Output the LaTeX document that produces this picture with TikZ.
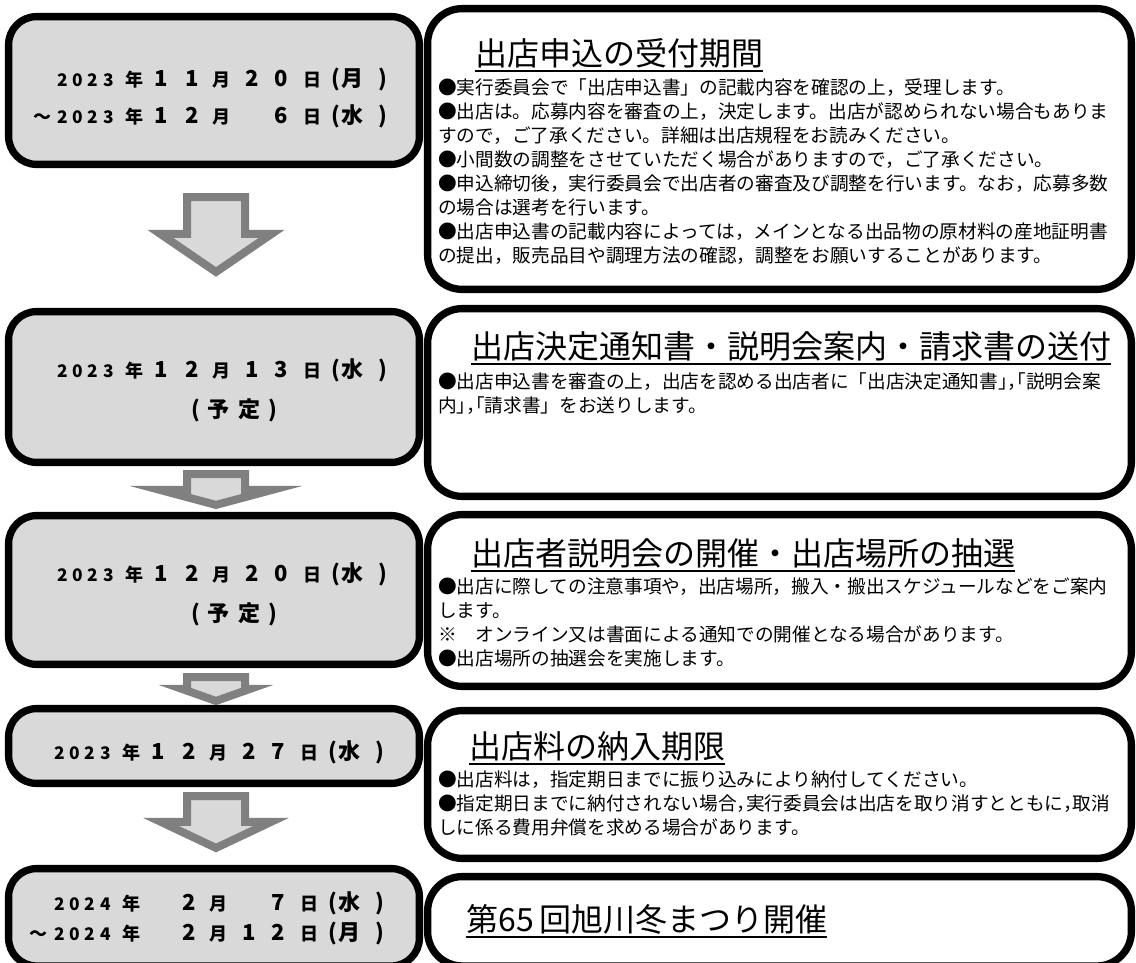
\documentclass[tikz,border=0pt]{standalone}
\usepackage{fontspec}
\setmainfont{Noto Sans CJK JP}
\usetikzlibrary{calc,fit}
\definecolor{boxgray}{HTML}{D9D9D9}
\definecolor{arrowgray}{HTML}{808080}

\newcommand{\at}[2]{\rlap{\hspace*{#1pt}\makebox[0pt]{#2}}}
\newcommand{\yr}[4]{\makebox[42.75pt][s]{\fontsize{13pt}{13pt}\selectfont#1\hfil#2\hfil#3\hfil#4}}
\newcommand{\kj}[1]{{\fontsize{13.5pt}{13.5pt}\selectfont#1}}
\newcommand{\dg}[1]{{\fontsize{16.5pt}{16.5pt}\selectfont#1}}
\newcommand{\dateline}[6]{\makebox[235.5pt][l]{\at{21.4}{\yr#1}\at{58.1}{\kj{年}}%
  \at{78.4}{\dg{#2}}\at{101.25}{\dg{#3}}\at{123.4}{\kj{月}}\at{146.25}{\dg{#4}}%
  \at{168.4}{\dg{#5}}\at{192}{\kj{日}}\at{209.25}{\dg{(}}\at{222}{\dg{#6}}\at{244.5}{\dg{)}}}}
\newcommand{\fromto}{\leavevmode\at{-11.25}{\kj{～}}}
\newcommand{\yotei}{\makebox[235.5pt][l]{\at{104.25}{\dg{(}}\at{121.5}{\dg{予}}%
  \at{144.4}{\dg{定}}\at{161.6}{\dg{)}}}}
\newcommand{\titleline}[1]{\setbox0=\hbox{#1}\rlap{\smash{\rule[-4.9pt]{\wd0}{1.5pt}}}\box0}
\newcommand{\half}[1]{{\addfontfeature{RawFeature=+halt}#1}}
\newcommand{\flowarrow}[6]{%
  \path ($(#1.south)+(2,#3)$) coordinate (atop) ($(#2.north)+(2,-#4)$) coordinate (atip);
  \draw[flow] ($(atop)+(-29,0)$) -- ($(atop)+(29,0)$) -- ($(atip)+(29,-#5)$) -- ($(atip)+(#6,-#5)$)
    -- (atip) -- ($(atip)+(-#6,-#5)$) -- ($(atip)+(-29,-#5)$) -- cycle;}

\begin{document}
\begin{tikzpicture}[x=0.75pt,y=-0.75pt,
  datebox/.style={draw,line width=5.5pt,fill=boxgray,rounded corners=21pt,inner sep=0pt},
  notebox/.style={draw,line width=5.5pt,fill=white,rounded corners=26pt,inner sep=0pt},
  flow/.style={draw=arrowgray,fill=boxgray,line width=6pt,line join=miter},
  datetext/.style={inner sep=0pt,text width=235.5pt,align=left},
  heading/.style={anchor=west,inner sep=0pt,font=\fontsize{24pt}{24pt}\selectfont},
  note/.style={anchor=north west,inner sep=0pt,text width=520pt,align=left,
    font=\fontsize{14pt}{18pt}\selectfont}]
  \useasboundingbox (0,0) rectangle (1136,963);

  \node[datebox,fit={(8.6,16.6) (419.4,164.4)}] (d1) {};
  \node[datebox,fit={(8.6,311.6) (419.4,462.4)}] (d2) {};
  \node[datebox,fit={(8.6,515.6) (419.4,664.4)}] (d3) {};
  \node[datebox,fit={(8.6,708.6) (419.4,783.4)}] (d4) {};
  \node[datebox,fit={(8.6,868.6) (419.4,966)}] (d5) {};

  \node[notebox,fit={(427.6,8.6) (1131.4,289.4)}] (n1) {};
  \node[notebox,fit={(427.6,308.6) (1131.4,496.4)}] (n2) {};
  \node[notebox,fit={(427.6,514.6) (1131.4,686.4)}] (n3) {};
  \node[notebox,fit={(427.6,710.6) (1131.4,858.4)}] (n4) {};
  \node[notebox,fit={(427.6,876.6) (1131.4,966)}] (n5) {};

  \flowarrow{d1}{d2}{29}{36}{38}{55.6}
  \flowarrow{d2}{d3}{8}{7}{15}{56}
  \flowarrow{d3}{d4}{9}{4}{12}{34}
  \flowarrow{d4}{d5}{9}{17}{26}{55}

  \node[datetext,font=\bfseries\fontsize{16pt}{27.75pt}\selectfont] (t1) at (214,98.5)
    {\dateline{2023}{1}{1}{2}{0}{月}\\\fromto\dateline{2023}{1}{2}{}{6}{水}};
  \node[datetext,font=\bfseries\fontsize{16pt}{30pt}\selectfont] (t2) at (214,390)
    {\dateline{2023}{1}{2}{1}{3}{水}\\\yotei};
  \node[datetext,font=\bfseries\fontsize{16pt}{30pt}\selectfont] (t3) at (214,594)
    {\dateline{2023}{1}{2}{2}{0}{水}\\\yotei};
  \node[datetext,font=\bfseries\fontsize{16pt}{30pt}\selectfont] (t4) at (211,752)
    {\dateline{2023}{1}{2}{2}{7}{水}};
  \node[datetext,font=\bfseries\fontsize{16pt}{22.5pt}\selectfont] (t5) at (211,918)
    {\dateline{2024}{}{2}{}{7}{水}\\\fromto\dateline{2024}{}{2}{1}{2}{月}};

  \node[heading] (h1) at (475,53) {\titleline{出店申込の受付期間}};
  \node[note] (b1) at (438,78.7) {●実行委員会で「出店申込書」の記載内容を確認の上，受理します。\\
    ●出店は。応募内容を審査の上，決定します。出店が認められない場合もありま\\
    すので，ご了承ください。詳細は出店規程をお読みください。\\
    ●小間数の調整をさせていただく場合がありますので，ご了承ください。\\
    ●申込締切後，実行委員会で出店者の審査及び調整を行います。なお，応募多数\\
    の場合は選考を行います。\\
    ●出店申込書の記載内容によっては，メインとなる出品物の原材料の産地証明書\\
    の提出，販売品目や調理方法の確認，調整をお願いすることがあります。};

  \node[heading] (h2) at (471,346) {\titleline{出店決定通知書・説明会案内・請求書の送付}};
  \node[note] (b2) at (438,372.7) {●出店申込書を審査の上，出店を認める出店者に「出店決定通知書\half{」，「}説明会案\\
    内\half{」，「}請求書」をお送りします。};

  \node[heading] (h3) at (471,553) {\titleline{出店者説明会の開催・出店場所の抽選}};
  \node[note] (b3) at (438,577.7) {●出店に際しての注意事項や，出店場所，搬入・搬出スケジュールなどをご案内\\
    します。\\
    ※　オンライン又は書面による通知での開催となる場合があります。\\
    ●出店場所の抽選会を実施します。};

  \node[heading] (h4) at (469,746) {\titleline{出店料の納入期限}};
  \node[note] (b4) at (438,770.7) {●出店料は，指定期日までに振り込みにより納付してください。\\
    ●指定期日までに納付されない場合\half{，}実行委員会は出店を取り消すとともに\half{，}取消\\
    しに係る費用弁償を求める場合があります。};

  \node[heading] (h5) at (466,919) {\titleline{第65\,回旭川冬まつり開催}};
\end{tikzpicture}
\end{document}
